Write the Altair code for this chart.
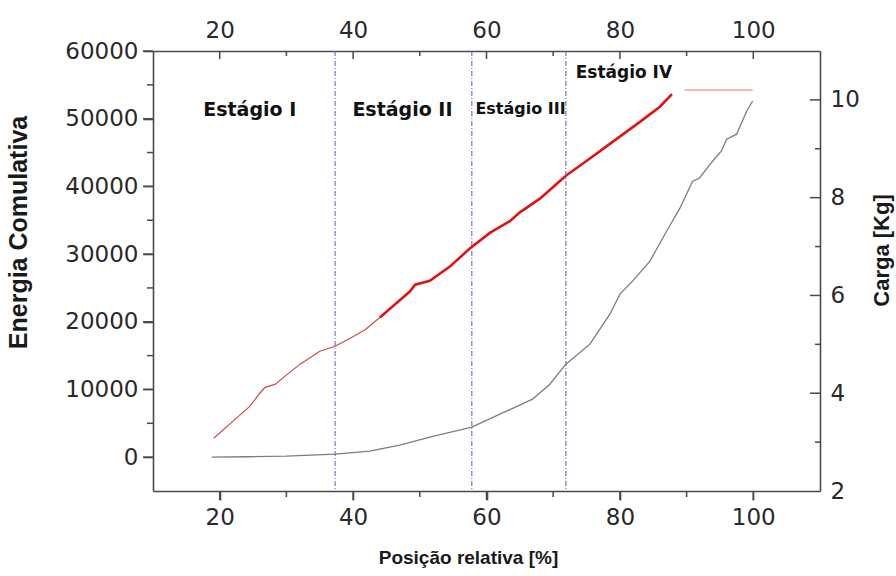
import altair as alt
import pandas as pd

# ---------------- data ----------------
gray_pos = [18.8, 24.0, 30.0, 37.3, 42.5, 47.0, 51.5, 57.8, 62.0, 66.9, 69.5, 71.9,
            75.5, 78.5, 80.0, 81.9, 84.5, 87.0, 89.0, 90.9, 91.9, 93.9, 95.2, 96.0,
            97.5, 99.0, 99.9]
gray_energia = [0, 60, 150, 450, 900, 1770, 2950, 4430, 6350, 8570, 10780, 13740,
                16690, 21120, 24080, 26000, 28950, 33380, 36780, 40770, 41210, 43720,
                45200, 46970, 47710, 51100, 52590]

red_pos = [19.1, 22.0, 24.5, 26.0, 26.8, 28.3, 29.8, 32.0, 35.0, 37.3, 39.5, 41.8,
           44.0, 46.3, 48.5, 49.3, 51.5, 54.5, 57.5, 60.5, 63.5, 65.0, 68.0, 71.9,
           75.5, 78.5, 83.0, 86.0, 87.8]
red_carga = [3.08, 3.43, 3.73, 4.00, 4.12, 4.18, 4.35, 4.59, 4.86, 4.96, 5.12, 5.30,
             5.55, 5.82, 6.08, 6.22, 6.30, 6.59, 6.96, 7.28, 7.52, 7.70, 7.98, 8.45,
             8.80, 9.10, 9.55, 9.86, 10.12]

flat_pos = [89.7, 99.9]
flat_carga = [10.2, 10.2]

stage_bounds = [37.3, 57.8, 71.9]
stage_names = ["Estágio I", "Estágio II", "Estágio III", "Estágio IV"]
stage_label_pos = [24.5, 47.4, 65.1, 80.6]

x_ticks = [20, 40, 60, 80, 100]
x_minor = [30, 50, 70, 90]
yl_ticks = [0, 10000, 20000, 30000, 40000, 50000, 60000]
yl_minor = [5000, 15000, 25000, 35000, 45000, 55000]
yr_ticks = [2, 4, 6, 8, 10]
yr_major_inner = [4, 6, 8, 10]
yr_minor = [3, 5, 7, 9]

# ---------------- layout ----------------
W, H = 667, 440
AX = "#4a4a4a"
LBL = "#2a2a2a"
TICKFONT = "DejaVu Sans"
TITLEFONT = "Liberation Sans"

X_DOM = [10, 110]
YL_DOM = [-5000, 60000]
YR_DOM = [2, 11]


def xs():
    return alt.Scale(domain=X_DOM, nice=False, zero=False)


def yls():
    return alt.Scale(domain=YL_DOM, nice=False, zero=False)


def yrs():
    return alt.Scale(domain=YR_DOM, nice=False, zero=False)


gray_df = pd.DataFrame({"pos": gray_pos, "energia": gray_energia})
red_df = pd.DataFrame({"pos": red_pos, "carga": red_carga})
red_thin = red_df[red_df.pos <= 44.0]
red_thick = red_df[red_df.pos >= 44.0]
flat_df = pd.DataFrame({"pos": flat_pos, "carga": flat_carga})

bottom_axis = alt.Axis(orient="bottom", values=x_ticks, ticks=True, tickSize=9,
                       tickWidth=1.6, tickColor=AX, domainColor=AX, domainWidth=1.6,
                       grid=False, labelFont=TICKFONT, labelFontSize=23, labelColor=LBL,
                       labelPadding=6, title="Posição relativa [%]",
                       titleFont=TITLEFONT, titleFontSize=19, titleFontWeight="bold",
                       titleColor="#1a1a1a", titlePadding=19, titleX=315)
left_axis = alt.Axis(orient="left", values=yl_ticks, format="d", ticks=True, tickSize=10,
                     tickWidth=1.6, tickColor=AX, domainColor=AX, domainWidth=1.6,
                     grid=False, labelFont=TICKFONT, labelFontSize=23, labelColor=LBL,
                     labelPadding=5, title="Energia Comulativa", titleFont=TITLEFONT,
                     titleFontSize=25, titleFontWeight="bold", titleColor="#1a1a1a",
                     titlePadding=33, titleY=181)
top_axis = alt.Axis(orient="top", values=x_ticks, tickSize=0, domainColor=AX,
                    domainWidth=1.6, grid=False, labelFont=TICKFONT, labelFontSize=23,
                    labelColor=LBL, labelPadding=9, title="")
right_axis = alt.Axis(orient="right", values=yr_ticks, tickSize=0, domainColor=AX,
                      domainWidth=1.6, grid=False, labelFont=TICKFONT, labelFontSize=23,
                      labelColor=LBL, labelPadding=10, title="Carga [Kg]",
                      titleFont=TITLEFONT, titleFontSize=22, titleFontWeight="bold",
                      titleColor="#1a1a1a", titleAngle=270, titlePadding=34, titleY=199)

gray = alt.Chart(gray_df).mark_line(color="#7d7d7d", strokeWidth=1.3).encode(
    x=alt.X("pos:Q", scale=xs(), axis=bottom_axis),
    y=alt.Y("energia:Q", scale=yls(), axis=left_axis),
)

red1 = alt.Chart(red_thin).mark_line(color="#d04848", strokeWidth=1.2).encode(
    x=alt.X("pos:Q", scale=xs(), axis=top_axis),
    y=alt.Y("carga:Q", scale=yrs(), axis=right_axis),
)
red2 = alt.Chart(red_thick).mark_line(color="#de1414", strokeWidth=2.6).encode(
    x=alt.X("pos:Q", scale=xs(), axis=None),
    y=alt.Y("carga:Q", scale=yrs(), axis=None),
)
flat = alt.Chart(flat_df).mark_line(color="#f0b2a2", strokeWidth=1.6).encode(
    x=alt.X("pos:Q", scale=xs(), axis=None),
    y=alt.Y("carga:Q", scale=yrs(), axis=None),
)


def yl_rule(vals, length):
    return alt.Chart(pd.DataFrame({"v": vals})).mark_rule(
        color=AX, strokeWidth=1.5).encode(
        y=alt.Y("v:Q", scale=yls(), axis=None),
        x=alt.value(-length), x2=alt.value(0))


def yr_rule(vals, length):
    return alt.Chart(pd.DataFrame({"v": vals})).mark_rule(
        color=AX, strokeWidth=1.5).encode(
        y=alt.Y("v:Q", scale=yrs(), axis=None),
        x=alt.value(W - length), x2=alt.value(W))


def xb_rule(vals, length):
    return alt.Chart(pd.DataFrame({"v": vals})).mark_rule(
        color=AX, strokeWidth=1.5).encode(
        x=alt.X("v:Q", scale=xs(), axis=None),
        y=alt.value(H), y2=alt.value(H + length))


def xt_rule(vals, length):
    return alt.Chart(pd.DataFrame({"v": vals})).mark_rule(
        color=AX, strokeWidth=1.5).encode(
        x=alt.X("v:Q", scale=xs(), axis=None),
        y=alt.value(0), y2=alt.value(length))


tick_layers = [
    yl_rule(yl_ticks, 10), yl_rule(yl_minor, 6),
    xb_rule(x_ticks, 9), xb_rule(x_minor, 6),
    yr_rule(yr_major_inner, 10), yr_rule(yr_minor, 5),
    xt_rule(x_ticks, 8), xt_rule(x_minor, 5),
]

stage_lines = alt.Chart(pd.DataFrame({"v": stage_bounds})).mark_rule(
    color="#6c6cb0", strokeWidth=1.1, strokeDash=[5, 2, 1, 2]).encode(
    x=alt.X("v:Q", scale=xs(), axis=None))

label_styles = [(19, 65), (19, 65), (16, 63), (17, 27)]
texts = []
for name, pos, (fs, ypx) in zip(stage_names, stage_label_pos, label_styles):
    texts.append(
        alt.Chart(pd.DataFrame({"pos": [pos], "name": [name]})).mark_text(
            font="DejaVu Sans", fontWeight="bold", fontSize=fs, color="#111111",
            align="center", baseline="alphabetic").encode(
            x=alt.X("pos:Q", scale=xs(), axis=None),
            y=alt.value(ypx), text="name:N"))

chart = alt.layer(
    gray, red1, red2, flat, *tick_layers, stage_lines, *texts
).resolve_scale(y="independent").resolve_axis(x="independent", y="independent").properties(
    width=W, height=H,
    autosize=alt.AutoSizeParams(type="none"),
    padding={"left": 153, "top": 51, "right": 76, "bottom": 85},
    background="white",
).configure_view(stroke=None)

chart.save("out.html", embed_options={"renderer": "svg", "actions": False})
